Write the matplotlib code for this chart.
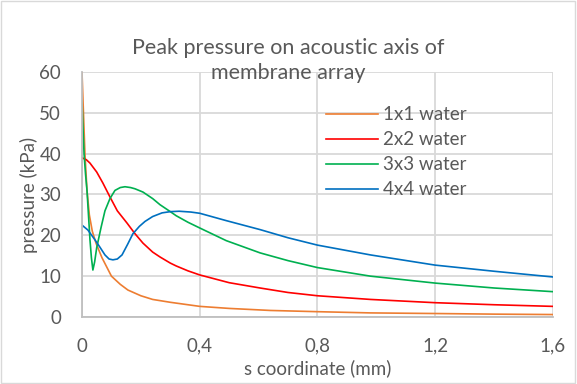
import matplotlib.pyplot as plt
from matplotlib.patches import Rectangle

plt.rcParams['font.family'] = ['Lato', 'DejaVu Sans']

# values (s in mm, pressure in kPa)
s_1x1 = [0, 0.005, 0.01, 0.017, 0.025, 0.035, 0.048, 0.068, 0.1, 0.13, 0.156, 0.2,
         0.24, 0.3, 0.4, 0.5, 0.64, 0.8, 0.98, 1.2, 1.4, 1.6]
p_1x1 = [60, 50, 40, 31, 25, 21, 18, 14.5, 10, 8, 6.6, 5.2,
         4.3, 3.6, 2.6, 2.1, 1.6, 1.3, 1.0, 0.85, 0.7, 0.6]

s_2x2 = [0, 0.015, 0.027, 0.05, 0.071, 0.095, 0.12, 0.153, 0.18, 0.207, 0.24, 0.265,
         0.3, 0.32, 0.36, 0.4, 0.5, 0.605, 0.7, 0.8, 0.98, 1.2, 1.4, 1.6]
p_2x2 = [39, 38.5, 37.7, 35.5, 32.8, 29.4, 26, 23, 20.4, 18.1, 15.9, 14.7,
         13.2, 12.5, 11.3, 10.3, 8.4, 7.1, 6.0, 5.2, 4.3, 3.5, 3.0, 2.6]

s_3x3 = [0, 0.003, 0.007, 0.012, 0.017, 0.022, 0.027, 0.032, 0.037, 0.043, 0.05, 0.065,
         0.078, 0.095, 0.112, 0.13, 0.146, 0.165, 0.18, 0.207, 0.24, 0.265, 0.3, 0.32,
         0.36, 0.4, 0.49, 0.605, 0.7, 0.8, 0.98, 1.2, 1.4, 1.6]
p_3x3 = [53, 47, 40, 35, 31, 25, 19, 14.5, 11.5, 13.5, 17, 22,
         26, 29, 31, 31.7, 31.9, 31.7, 31.4, 30.6, 29, 27.5, 25.8, 24.8,
         23.2, 21.8, 18.7, 15.7, 13.8, 12.1, 10.0, 8.3, 7.1, 6.2]

s_4x4 = [0, 0.02, 0.044, 0.06, 0.078, 0.092, 0.105, 0.12, 0.136, 0.155, 0.173, 0.195,
         0.214, 0.24, 0.272, 0.3, 0.33, 0.37, 0.4, 0.49, 0.605, 0.7, 0.8, 0.98,
         1.2, 1.4, 1.6]
p_4x4 = [22.5, 21.3, 18.9, 17.2, 15.2, 14.2, 14.0, 14.2, 15.2, 17.8, 20.4, 22.2,
         23.4, 24.6, 25.5, 25.8, 25.9, 25.7, 25.4, 23.6, 21.4, 19.4, 17.6, 15.2,
         12.7, 11.2, 9.8]

series = [
    ('1x1 water', s_1x1, p_1x1, '#ED7D31'),
    ('2x2 water', s_2x2, p_2x2, '#FF0000'),
    ('3x3 water', s_3x3, p_3x3, '#00B050'),
    ('4x4 water', s_4x4, p_4x4, '#0070C0'),
]

x_ticks = [0, 0.4, 0.8, 1.2, 1.6]
x_tick_labels = ['0', '0,4', '0,8', '1,2', '1,6']
y_ticks = [0, 10, 20, 30, 40, 50, 60]

txt = '#595959'
grid = '#d9d9d9'
fs = 13.5

fig = plt.figure(figsize=(5.77, 3.84), dpi=100, facecolor='white')
ax = fig.add_axes([0.1421, 0.1745, 0.8163, 0.638])

for name, s, p, c in series:
    ax.plot(s, p, color=c, lw=1.2, label=name, solid_joinstyle='round')

ax.set_xlim(0, 1.6)
ax.set_ylim(0, 60)
ax.set_xticks(x_ticks)
ax.set_xticklabels(x_tick_labels)
ax.set_yticks(y_ticks)
ax.grid(True, color=grid, lw=1.3)
ax.set_axisbelow(True)
ax.tick_params(length=0, labelsize=fs, labelcolor=txt)
ax.tick_params(axis='x', pad=15)
ax.tick_params(axis='y', pad=15)
for side in ['top', 'right']:
    ax.spines[side].set_visible(False)
for side in ['left', 'bottom']:
    ax.spines[side].set_color('#bfbfbf')
    ax.spines[side].set_linewidth(1.3)

ax.set_xlabel('s coordinate (mm)', fontsize=fs, color=txt, labelpad=3)
ax.set_ylabel('pressure (kPa)', fontsize=fs, color=txt, labelpad=1)

fig.text(0.5, 0.842, 'Peak pressure on acoustic axis of\nmembrane array',
         ha='center', va='center', fontsize=15.5, color=txt, linespacing=1.3)

leg = ax.legend(loc='upper left', bbox_to_anchor=(0.518, 0.86), frameon=False,
                fontsize=fs, labelcolor=txt, handlelength=2.77, handletextpad=0.27,
                labelspacing=0.43, borderpad=0, borderaxespad=0)

# chart border like the spreadsheet frame
fig.patches.append(Rectangle((0.002, 0.003), 0.995, 0.994, transform=fig.transFigure,
                             fill=False, edgecolor=grid, lw=1))

fig.savefig('out.png', dpi=100)
